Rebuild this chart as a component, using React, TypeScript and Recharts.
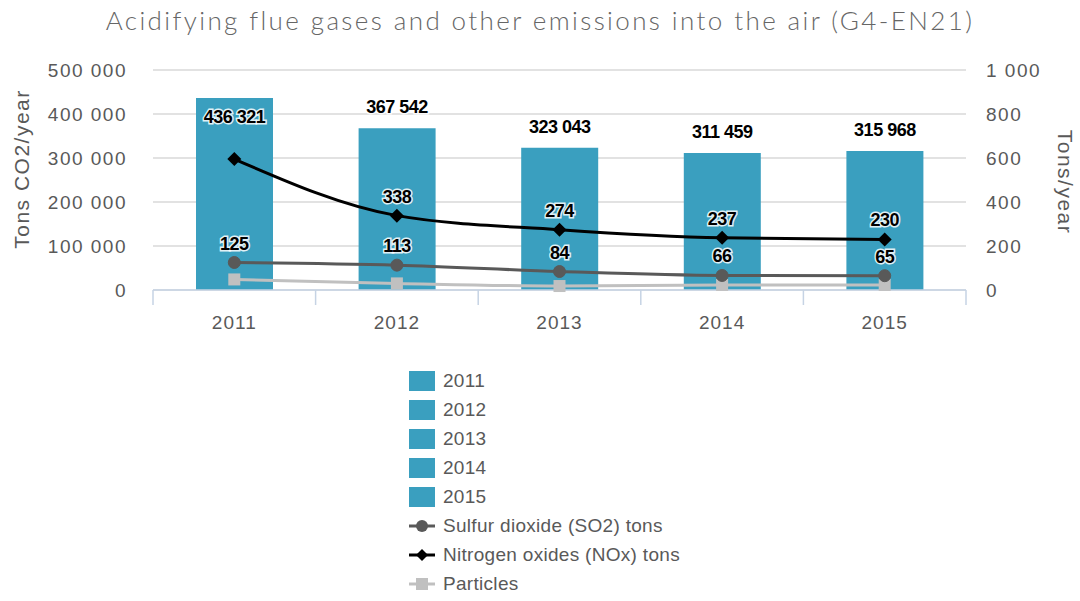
import React from 'react';
import {
  ComposedChart,
  Bar,
  Line,
  XAxis,
  YAxis,
  CartesianGrid,
  Legend,
  LabelList,
} from 'recharts';

const years = ['2011', '2012', '2013', '2014', '2015'];
const co2Tons = [436321, 367542, 323043, 311459, 315968];
const so2Tons = [125, 113, 84, 66, 65];
const noxTons = [595, 338, 274, 237, 230];
const particles = [48, 30, 18, 23, 23];
const leftTicks = [0, 100000, 200000, 300000, 400000, 500000];
const rightTicks = [0, 200, 400, 600, 800, 1000];

const data = years.map((year, i) => ({
  year,
  co2: co2Tons[i],
  so2: so2Tons[i],
  nox: noxTons[i],
  particles: particles[i],
}));

const W = 1080;
const H = 601;
const LEFT_W = 153;
const RIGHT_W = 114;
const BAND = (W - LEFT_W - RIGHT_W) / years.length;

const BAR_COLOR = '#3a9fbf';
const TEXT_COLOR = '#595959';
const FONT = '"Liberation Sans", Arial, sans-serif';

const fmt = (n: number) => String(n).replace(/\B(?=(\d{3})+(?!\d))/g, ' ');

function haloText(x: number, y: number, value: string) {
  return (
    <text
      x={x}
      y={y}
      textAnchor="middle"
      fontFamily={FONT}
      fontWeight="bold"
      fontSize={18}
      letterSpacing={-0.5}
      fill="#000"
      stroke="#fff"
      strokeWidth={3}
      strokeOpacity={0.85}
      paintOrder="stroke"
    >
      {value}
    </text>
  );
}

const BarValueLabel = (props: any) => {
  const { x, y, width, value } = props;
  const cx = x + width / 2;
  // no room above the tallest bar, so its label sits inside
  const ty = y - 22 < 85 ? y + 25 : y - 15;
  return haloText(cx, ty, fmt(value));
};

const PointLabel = (props: any) => {
  const { x, y, value, index } = props;
  if (props.skipFirst && index === 0) return null;
  return haloText(x, y - 13, fmt(value));
};

const XTick = (props: any) => {
  const { x, y, payload, index } = props;
  const lineStyle = { stroke: '#c6d3e4', strokeWidth: 1.5 };
  return (
    <g>
      <line x1={x - BAND / 2} x2={x - BAND / 2} y1={y} y2={y + 15} {...lineStyle} />
      {index === years.length - 1 && (
        <line x1={x + BAND / 2} x2={x + BAND / 2} y1={y} y2={y + 15} {...lineStyle} />
      )}
      <text
        x={x}
        y={y + 39}
        textAnchor="middle"
        fontFamily={FONT}
        fontSize={19}
        letterSpacing={1}
        fill={TEXT_COLOR}
      >
        {payload.value}
      </text>
    </g>
  );
};

const AxisTitle = (props: any) => {
  const { viewBox, value, side } = props;
  const cx = side === 'left' ? viewBox.x + 21 : viewBox.x + viewBox.width - 15;
  const cy = side === 'left' ? 169 : 182;
  const angle = side === 'left' ? -90 : 90;
  return (
    <text
      x={cx}
      y={cy}
      transform={`rotate(${angle} ${cx} ${cy})`}
      textAnchor="middle"
      dominantBaseline="central"
      fontFamily={FONT}
      fontSize={21}
      letterSpacing={1.5}
      fill={TEXT_COLOR}
    >
      {value}
    </text>
  );
};

function LegendIcon({ kind }: { kind: string }) {
  if (kind === 'bar') return <rect x={0} y={0} width={26} height={20} fill={BAR_COLOR} />;
  const color = kind === 'so2' ? '#595959' : kind === 'nox' ? '#000' : '#c0c0c0';
  return (
    <g>
      <line x1={0} x2={26} y1={10} y2={10} stroke={color} strokeWidth={3} />
      {kind === 'so2' && <circle cx={13} cy={10} r={6} fill={color} />}
      {kind === 'nox' && <polygon points="13,4 19,10 13,16 7,10" fill={color} />}
      {kind === 'particles' && <rect x={7} y={4} width={12} height={12} fill={color} />}
    </g>
  );
}

const legendItems = [
  ...years.map((y) => ({ kind: 'bar', label: y })),
  { kind: 'so2', label: 'Sulfur dioxide (SO2) tons' },
  { kind: 'nox', label: 'Nitrogen oxides (NOx) tons' },
  { kind: 'particles', label: 'Particles' },
];

const LegendContent = () => (
  <div>
    {legendItems.map((item) => (
      <div
        key={item.label}
        style={{ display: 'flex', alignItems: 'center', height: 29 }}
      >
        <svg width={26} height={20}>
          <LegendIcon kind={item.kind} />
        </svg>
        <span
          style={{
            marginLeft: 8,
            fontFamily: FONT,
            fontSize: 19,
            color: TEXT_COLOR,
            letterSpacing: 0.3,
          }}
        >
          {item.label}
        </span>
      </div>
    ))}
  </div>
);

export default function App() {
  return (
    <div style={{ position: 'absolute', left: 0, top: 0, width: W, height: H, background: '#fff' }}>
      <div
        style={{
          position: 'absolute',
          top: 4,
          left: 0,
          width: W,
          textAlign: 'center',
          fontFamily: 'Lato, "DejaVu Sans", sans-serif',
          fontWeight: 300,
          fontSize: 26,
          color: '#666',
          letterSpacing: 2.4,
          zIndex: 1,
        }}
      >
        Acidifying flue gases and other emissions into the air (G4-EN21)
      </div>
      <ComposedChart
        width={W}
        height={H}
        data={data}
        margin={{ top: 70, right: 0, bottom: 271, left: 0 }}
      >
        <CartesianGrid yAxisId="left" vertical={false} stroke="#d9d9d9" strokeWidth={1.5} />
        <XAxis
          dataKey="year"
          height={40}
          axisLine={{ stroke: '#c6d3e4', strokeWidth: 1.5 }}
          tickLine={false}
          tickSize={0}
          tickMargin={0}
          tick={<XTick />}
        />
        <YAxis
          yAxisId="left"
          width={LEFT_W}
          domain={[0, 500000]}
          ticks={leftTicks}
          axisLine={false}
          tickLine={false}
          tickMargin={20}
          tickFormatter={fmt}
          tick={{ fill: TEXT_COLOR, fontSize: 19, fontFamily: FONT, letterSpacing: 1.5 }}
          label={<AxisTitle value="Tons CO2/year" side="left" />}
        />
        <YAxis
          yAxisId="right"
          orientation="right"
          width={RIGHT_W}
          domain={[0, 1000]}
          ticks={rightTicks}
          axisLine={false}
          tickLine={false}
          tickMargin={14}
          tickFormatter={fmt}
          tick={{ fill: TEXT_COLOR, fontSize: 19, fontFamily: FONT, letterSpacing: 1.5 }}
          label={<AxisTitle value="Tons/year" side="right" />}
        />
        <Legend
          layout="vertical"
          align="center"
          verticalAlign="middle"
          wrapperStyle={{ left: 409, top: 366, width: 330 }}
          content={<LegendContent />}
        />
        <Bar
          yAxisId="left"
          dataKey="co2"
          name="CO2"
          fill={BAR_COLOR}
          barSize={77}
          isAnimationActive={false}
        >
          <LabelList dataKey="co2" content={<BarValueLabel />} />
        </Bar>
        <Line
          yAxisId="right"
          type="monotone"
          dataKey="particles"
          name="Particles"
          stroke="#c0c0c0"
          strokeWidth={3}
          dot={(p: any) => (
            <rect key={`pa-${p.index}`} x={p.cx - 6} y={p.cy - 6} width={12} height={12} fill="#c0c0c0" />
          )}
          isAnimationActive={false}
        />
        <Line
          yAxisId="right"
          type="monotone"
          dataKey="so2"
          name="Sulfur dioxide (SO2) tons"
          stroke="#595959"
          strokeWidth={3}
          dot={{ r: 6, fill: '#595959', stroke: '#595959', strokeWidth: 1 }}
          isAnimationActive={false}
        >
          <LabelList dataKey="so2" content={<PointLabel />} />
        </Line>
        <Line
          yAxisId="right"
          type="monotone"
          dataKey="nox"
          name="Nitrogen oxides (NOx) tons"
          stroke="#000"
          strokeWidth={3}
          dot={(p: any) => (
            <polygon
              key={`nx-${p.index}`}
              points={`${p.cx},${p.cy - 7} ${p.cx + 7},${p.cy} ${p.cx},${p.cy + 7} ${p.cx - 7},${p.cy}`}
              fill="#000"
            />
          )}
          isAnimationActive={false}
        >
          <LabelList dataKey="nox" content={<PointLabel skipFirst />} />
        </Line>
      </ComposedChart>
    </div>
  );
}
